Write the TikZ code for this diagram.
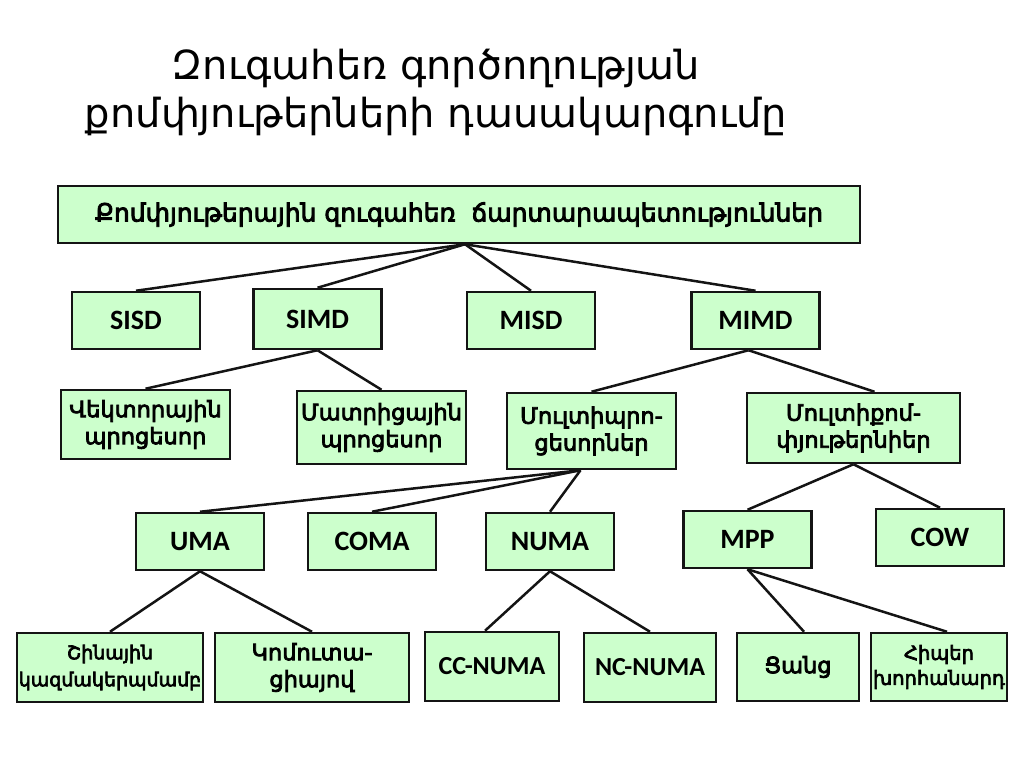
\documentclass[tikz,border=0pt]{standalone}
\usepackage{fontspec}
\setmainfont{DejaVu Sans}
\newfontfamily\armbold[FakeBold=3.5]{DejaVu Sans}
\newfontfamily\calibfont{Carlito}
\usetikzlibrary{positioning}
\definecolor{clsGreen}{RGB}{204,255,204}
\definecolor{clsEdge}{RGB}{20,20,20}

\begin{document}
\begin{tikzpicture}[x=1pt,y=-1pt,
      box/.style={draw=clsEdge,fill=clsGreen,line width=2.5pt,inner sep=0pt,align=center,minimum width=128pt,minimum height=57pt,font=\fontsize{22.5}{27}\selectfont\armbold},
      lat/.style={box,font=\fontsize{28}{30}\selectfont\calibfont\bfseries},
      lnk/.style={clsEdge,line width=2.5pt}]
    \useasboundingbox (0,0) rectangle (1024,767);
    \node[align=center,font=\fontsize{40}{48}\selectfont] (title) at (436,92) {Զուգահեռ գործողության\\քոմփյութերների դասակարգումը};
    % level 0
    \node[box,minimum width=802pt,font=\fontsize{25}{30}\selectfont\armbold] (top) at (459,214.5) {Քոմփյութերային զուգահեռ\ \ ճարտարապետություններ};
    % level 1
    \node[lat] (sisd) at (136,320.5) {SISD};
    \node[lat,minimum height=60pt] (simd) at (317.5,319) {SIMD};
    \node[lat] (misd) at (531,320.5) {MISD};
    \node[lat] (mimd) at (755.5,320.5) {MIMD};
    % level 2
    \node[box,minimum width=169pt,minimum height=69pt] (vect) at (145.5,424.5) {Վեկտորային\\պրոցեսոր};
    \node[box,minimum width=169pt,minimum height=73pt] (matr) at (381.5,427.5) {Մատրիցային\\պրոցեսոր};
    \node[box,minimum width=169pt,minimum height=76pt] (mproc) at (591.5,431) {Մուլտիպրո-\\ցեսորներ};
    \node[box,minimum width=213pt,minimum height=70pt] (mcomp) at (853.5,428) {Մուլտիքոմ-\\փյութերնիեր};
    % level 3
    \node[lat] (uma) at (200,541.5) {UMA};
    \node[lat] (coma) at (372,541.5) {COMA};
    \node[lat] (numa) at (550,541.5) {NUMA};
    \node[lat] (mpp) at (747.5,539.5) {MPP};
    \node[lat] (cow) at (940,537.5) {COW};
    % level 4
    \node[box,minimum width=186pt,minimum height=69pt,font=\fontsize{19}{27}\selectfont\armbold] (bus) at (110,667.5) {Շինային\\կազմակերպմամբ};
    \node[box,minimum width=194pt,minimum height=69pt] (switch) at (312,667.5) {Կոմուտա-\\ցիայով};
    \node[lat,minimum width=134pt,minimum height=69pt,font=\fontsize{26}{30}\selectfont\calibfont\bfseries] (ccnuma) at (492,666.5) {CC-NUMA};
    \node[lat,minimum width=132pt,minimum height=69pt,font=\fontsize{26}{30}\selectfont\calibfont\bfseries] (ncnuma) at (650,667.5) {NC-NUMA};
    \node[box,minimum width=122pt,minimum height=68pt] (net) at (798,667) {Ցանց};
    \node[box,minimum width=136pt,minimum height=68pt,font=\fontsize{19.5}{25}\selectfont\armbold] (cube) at (939,667) {Հիպեր\\խորհանարդ};
    % connectors
    \foreach \c in {sisd,simd,misd,mimd}
      \draw[lnk] ([xshift=6pt]top.south) -- (\c.north);
    \draw[lnk] (simd.south) -- (vect.north);
    \draw[lnk] (simd.south) -- (matr.north);
    \draw[lnk] ([xshift=-7pt]mimd.south) -- (mproc.north);
    \draw[lnk] ([xshift=-7pt]mimd.south) -- ([xshift=21pt]mcomp.north);
    \foreach \c in {uma,coma,numa}
      \draw[lnk] ([xshift=-11pt]mproc.south) -- (\c.north);
    \draw[lnk] (mcomp.south) -- (mpp.north);
    \draw[lnk] (mcomp.south) -- (cow.north);
    \draw[lnk] (uma.south) -- (bus.north);
    \draw[lnk] (uma.south) -- (switch.north);
    \draw[lnk] (numa.south) -- ([xshift=-7pt]ccnuma.north);
    \draw[lnk] (numa.south) -- (ncnuma.north);
    \draw[lnk] (mpp.south) -- ([xshift=6pt]net.north);
    \draw[lnk] (mpp.south) -- ([xshift=8pt]cube.north);
  \end{tikzpicture}
\end{document}
